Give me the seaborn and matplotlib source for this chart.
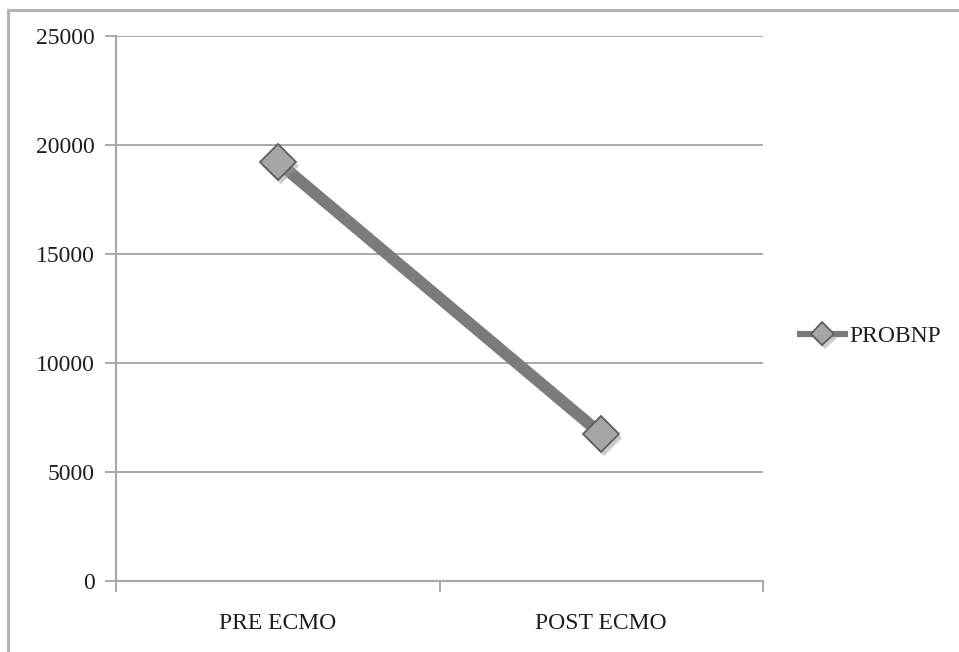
import matplotlib
matplotlib.use("Agg")
import matplotlib.pyplot as plt
import matplotlib.patheffects as pe
from matplotlib.lines import Line2D
import seaborn as sns
import pandas as pd

# PROBNP before and after ECMO
stages = ["PRE ECMO", "POST ECMO"]
probnp = [19220, 6740]
series_name = "PROBNP"
y_ticks = [0, 5000, 10000, 15000, 20000, 25000]

sns.set_theme(style="white")
plt.rcParams["font.family"] = ["Liberation Serif", "DejaVu Serif"]

df = pd.DataFrame({"stage": stages, "value": probnp, "series": series_name})

fig = plt.figure(figsize=(9.59, 6.52), dpi=100)
ax = fig.add_axes([116 / 959, 1 - 581 / 652, (763 - 116) / 959, (581 - 36) / 652])

grid_col = "#a9a9ad"
line_col = "#7b7b7d"

shadow = [pe.SimplePatchShadow(offset=(2, -3), shadow_rgbFace="#9a9a9a", alpha=0.5), pe.Normal()]

sns.lineplot(
    data=df, x="stage", y="value", hue="series", palette=[line_col],
    ax=ax, linewidth=8.5, marker="D", markersize=18.5,
    markerfacecolor="#a6a6a8", markeredgecolor="#5e5e60", markeredgewidth=1.3,
    sort=False, legend=True,
)
for ln in ax.lines:
    ln.set_path_effects(shadow)
    ln.set_solid_capstyle("butt")

ax.set_xlim(-0.5, 1.5)
ax.set_ylim(0, 25000)
ax.set_yticks(y_ticks)
ax.set_yticklabels([str(v) for v in y_ticks])
ax.set_xlabel("")
ax.set_ylabel("")

# horizontal gridlines
for v in y_ticks[1:]:
    ax.axhline(v, color=grid_col, linewidth=1.4, zorder=0)

for side in ["top", "right"]:
    ax.spines[side].set_visible(False)
for side in ["left", "bottom"]:
    ax.spines[side].set_color(grid_col)
    ax.spines[side].set_linewidth(1.6)

ax.tick_params(axis="y", which="major", length=8, width=1.4, color=grid_col,
               direction="out", pad=7.5, labelsize=17, labelcolor="#1e1e1e", left=True)
ax.tick_params(axis="x", which="major", length=0, pad=23, labelsize=17, labelcolor="#1e1e1e")
ax.set_xticks([-0.5, 0.5, 1.5], minor=True)
ax.tick_params(axis="x", which="minor", length=8, width=1.4, color=grid_col,
               direction="out", bottom=True)

# legend
handles, labels = ax.get_legend_handles_labels()
leg = ax.legend(
    handles=handles, labels=[series_name], frameon=False, loc="center left",
    bbox_to_anchor=(797 / 959, 1 - 336 / 652), bbox_transform=fig.transFigure,
    fontsize=17, handlelength=2.15, handletextpad=0.05, borderaxespad=0, borderpad=0,
)
for h in leg.legend_handles:
    h.set_linewidth(4.5)
    h.set_markersize(12)
for t in leg.get_texts():
    t.set_color("#1e1e1e")

# outer frame around chart area
frame_kw = dict(color="#b3b3b8", linewidth=2.2, transform=fig.transFigure)
fig.add_artist(Line2D([8 / 959, 1.0], [1 - 10 / 652, 1 - 10 / 652], **frame_kw))
fig.add_artist(Line2D([8 / 959, 8 / 959], [0.0, 1 - 10 / 652], **frame_kw))

fig.savefig("out.png", dpi=100, facecolor="white")
